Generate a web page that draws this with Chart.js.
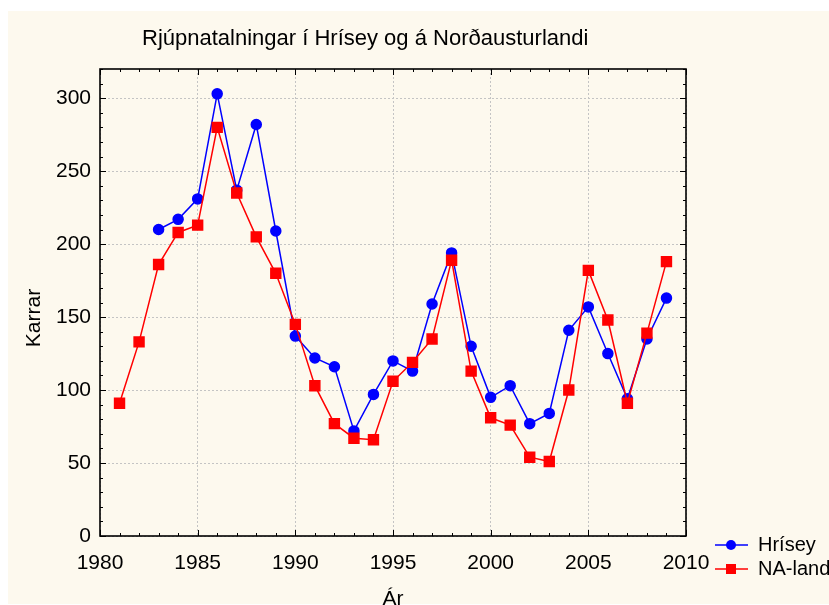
<!DOCTYPE html>
<html>
<head>
<meta charset="utf-8">
<script src="https://cdn.jsdelivr.net/npm/chart.js@4"></script>
<style>
html,body{margin:0;padding:0;background:#ffffff;}
#bg{position:absolute;left:8px;top:11px;width:821px;height:593px;background:#fdf9ee;}
#wrap{position:absolute;left:0;top:0;width:829px;height:605px;}
</style>
</head>
<body>
<div id="bg"></div>
<div id="wrap"><canvas id="c" width="829" height="605"></canvas></div>
<script>
const titleText = "Rjúpnatalningar í Hrísey og á Norðausturlandi";
const xTitle = "Ár";
const yTitle = "Karrar";
const years = [1981,1982,1983,1984,1985,1986,1987,1988,1989,1990,1991,1992,1993,1994,1995,1996,1997,1998,1999,2000,2001,2002,2003,2004,2005,2006,2007,2008,2009];
const hrisey = [null,null,210,217,231,303,237,282,209,137,122,116,72,97,120,113,159,194,130,95,103,77,84,141,157,125,94,135,163];
const naLandi = [91,133,186,208,213,280,235,205,180,145,103,77,67,66,106,119,135,189,113,81,76,54,51,100,182,148,91,139,188];
const seriesNames = ["Hrísey","NA-landi"];
const xTicks = [1980,1985,1990,1995,2000,2005,2010];
const yTicks = [0,50,100,150,200,250,300];

const FONT = "'Liberation Sans', Arial, sans-serif";

const framePlugin = {
  id: 'frame',
  afterDatasetsDraw(chart) {
    const ctx = chart.ctx, a = chart.chartArea;
    const xs = chart.scales.x, ys = chart.scales.y;
    ctx.save();
    ctx.strokeStyle = '#000';
    ctx.lineWidth = 1;
    for (let yr = xs.min; yr <= xs.max; yr += 1) {
      const px = Math.round(xs.getPixelForValue(yr)) + 0.5;
      const len = (yr % 5 === 0) ? 6 : 3;
      ctx.beginPath();
      ctx.moveTo(px, a.bottom); ctx.lineTo(px, a.bottom - len);
      ctx.moveTo(px, a.top); ctx.lineTo(px, a.top + len);
      ctx.stroke();
    }
    for (let v = ys.min; v <= ys.max; v += 10) {
      const py = Math.round(ys.getPixelForValue(v)) + 0.5;
      const len = (v % 50 === 0) ? 6 : 3;
      ctx.beginPath();
      ctx.moveTo(a.left, py); ctx.lineTo(a.left + len, py);
      ctx.moveTo(a.right, py); ctx.lineTo(a.right - len, py);
      ctx.stroke();
    }
    ctx.lineWidth = 1.6;
    ctx.strokeRect(a.left, a.top, a.right - a.left, a.bottom - a.top);
    ctx.restore();
  },
  afterDraw(chart) {
    const ctx = chart.ctx;
    ctx.save();
    ctx.fillStyle = '#000';
    ctx.font = "22px " + FONT;
    ctx.textAlign = 'left';
    ctx.textBaseline = 'middle';
    ctx.fillText(titleText, 142, 39);
    ctx.font = "21px " + FONT;
    ctx.save();
    ctx.translate(34, 318);
    ctx.rotate(-Math.PI / 2);
    ctx.textAlign = 'center';
    ctx.fillText(yTitle, 0, 0);
    ctx.restore();
    ctx.font = "20px " + FONT;
    chart.data.datasets.forEach((ds, i) => {
      const y = 545 + i * 24;
      ctx.strokeStyle = ds.borderColor;
      ctx.lineWidth = 1.5;
      ctx.beginPath();
      ctx.moveTo(715, y); ctx.lineTo(748, y);
      ctx.stroke();
      ctx.fillStyle = ds.backgroundColor;
      if (ds.pointStyle === 'rect') {
        ctx.fillRect(726, y - 5, 10, 10);
      } else {
        ctx.beginPath(); ctx.arc(731, y, 5, 0, Math.PI * 2); ctx.fill();
      }
      ctx.fillStyle = '#000';
      ctx.textAlign = 'left';
      ctx.textBaseline = 'middle';
      ctx.fillText(ds.label, 758, y);
    });
    ctx.restore();
  }
};

const toXY = arr => years.map((yr, i) => ({x: yr, y: arr[i]}));

new Chart(document.getElementById('c'), {
  type: 'line',
  data: {
    datasets: [
      {label: seriesNames[0], data: toXY(hrisey), borderColor: '#0000ff', backgroundColor: '#0000ff',
       pointStyle: 'circle', pointRadius: 5, pointHoverRadius: 5, borderWidth: 1.5, tension: 0, order: 1},
      {label: seriesNames[1], data: toXY(naLandi), borderColor: '#ff0000', backgroundColor: '#ff0000',
       pointStyle: 'rect', pointRadius: 7, pointHoverRadius: 7, borderWidth: 1.5, tension: 0, order: 0}
    ]
  },
  options: {
    responsive: false,
    animation: false,
    events: [],
    layout: {padding: {left: 0, right: 143, top: 69, bottom: 0}},
    plugins: {legend: {display: false}, title: {display: false}, tooltip: {enabled: false}},
    scales: {
      x: {
        type: 'linear', min: 1980, max: 2010,
        afterFit(s) { s.height = 69; },
        afterBuildTicks(s) { s.ticks = xTicks.map(v => ({value: v})); },
        ticks: {color: '#000', font: {family: FONT, size: 21}, padding: 15, maxRotation: 0, autoSkip: false,
                callback: v => String(v)},
        grid: {color: '#c4c4c4', drawTicks: false, lineWidth: 1},
        border: {display: false, dash: [2, 2]},
        title: {display: true, text: xTitle, color: '#000', font: {family: FONT, size: 21}, padding: {top: 0, bottom: -7}}
      },
      y: {
        type: 'linear', min: 0, max: 320,
        afterFit(s) { s.width = 100; },
        afterBuildTicks(s) { s.ticks = yTicks.map(v => ({value: v})); },
        ticks: {color: '#000', font: {family: FONT, size: 21}, padding: 9, callback: v => String(v)},
        grid: {color: '#c4c4c4', drawTicks: false, lineWidth: 1},
        border: {display: false, dash: [2, 2]}
      }
    }
  },
  plugins: [framePlugin]
});
</script>
</body>
</html>
